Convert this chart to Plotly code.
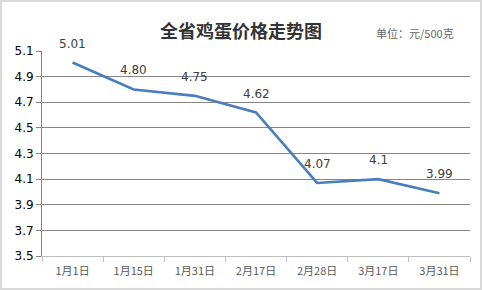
import plotly.graph_objects as go

categories = ["1月1日", "1月15日", "1月31日", "2月17日", "2月28日", "3月17日", "3月31日"]
prices = [5.01, 4.80, 4.75, 4.62, 4.07, 4.10, 3.99]
labels = ["5.01", "4.80", "4.75", "4.62", "4.07", "4.1", "3.99"]
yticks = [3.5, 3.7, 3.9, 4.1, 4.3, 4.5, 4.7, 4.9, 5.1]

FONT = "Noto Sans CJK SC, DejaVu Sans, sans-serif"

fig = go.Figure()
fig.add_trace(go.Scatter(
    x=categories, y=prices, mode="lines",
    line=dict(color="#4A7EBB", width=2.6),
    hoverinfo="skip", showlegend=False,
))

for c, v, t in zip(categories, prices, labels):
    fig.add_annotation(x=c, y=v, text=t, showarrow=False, yshift=19,
                       font=dict(family="DejaVu Sans", size=12, color="#404040"))

fig.add_annotation(x=(241 - 42) / 428, y=1 + (51 - 30) / 205, xref="paper", yref="paper",
                   text="<b>全省鸡蛋价格走势图</b>",
                   showarrow=False, xanchor="center", yanchor="middle",
                   font=dict(family=FONT, size=18, color="#333333"))
fig.add_annotation(x=1, y=1, xref="paper", yref="paper", text="单位：元/500克",
                   showarrow=False, xanchor="right", yanchor="bottom", yshift=8, xshift=-14,
                   font=dict(family=FONT, size=11, color="#666666"))

fig.add_shape(type="rect", xref="paper", yref="paper", x0=-41/428, x1=1+11/428,
              y0=-33/205, y1=1+50/205, line=dict(color="#D9D9D9", width=2))

fig.update_layout(
    width=482, height=290,
    margin=dict(l=42, r=12, t=51, b=34),
    paper_bgcolor="white", plot_bgcolor="white",
    xaxis=dict(type="category", range=[-0.5, 6.5], showline=True, linecolor="#BFBFBF", linewidth=1,
               ticks="outside", tickson="boundaries", ticklen=5, tickcolor="#BFBFBF",
               ticklabelstandoff=5,
               showgrid=False, tickfont=dict(family=FONT, size=11, color="#595959"),
               fixedrange=True),
    yaxis=dict(range=[3.5, 5.1], tickvals=yticks, ticktext=[f"{v:.1f}" for v in yticks],
               showline=True, linecolor="#868686", linewidth=1,
               ticks="outside", ticklen=5, tickcolor="#868686",
               showgrid=True, gridcolor="#868686", gridwidth=1, zeroline=False,
               tickfont=dict(family="DejaVu Sans", size=12, color="#000000"),
               fixedrange=True),
)

fig.write_html("out.html")
